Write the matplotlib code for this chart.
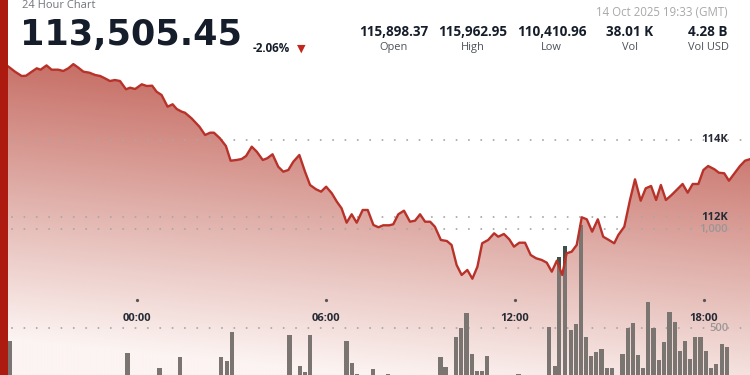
import numpy as np
import matplotlib
matplotlib.use("Agg")
import matplotlib.pyplot as plt
from matplotlib.patches import Polygon, Rectangle
import matplotlib.transforms as mtransforms

# ---------------- data ----------------
title = "24 Hour Chart"
last_price = "113,505.45"
change_pct = "-2.06%"
timestamp = "14 Oct 2025 19:33 (GMT)"
stats_values = ["115,898.37", "115,962.95", "110,410.96", "38.01 K", "4.28 B"]
stats_labels = ["Open", "High", "Low", "Vol", "Vol USD"]

# hours relative to 00:00 (negative = previous day)
price_hours = [-4.07, -3.86, -3.65, -3.51, -3.33, -3.17, -3.05, -2.86, -2.70, -2.49,
               -2.33, -2.17, -2.01, -1.85, -1.69, -1.50, -1.32, -1.16, -1.01, -0.85,
               -0.69, -0.53, -0.34, -0.21, -0.05, 0.16, 0.32, 0.49, 0.63, 0.79,
               0.98, 1.14, 1.27, 1.43, 1.53, 1.74, 1.99, 2.17, 2.33, 2.45,
               2.64, 2.83, 2.98, 3.17, 3.33, 3.47, 3.65, 3.81, 4.00, 4.14,
               4.31, 4.49, 4.65, 4.81, 4.97, 5.16, 5.34, 5.50, 5.69, 5.85,
               6.01, 6.19, 6.35, 6.50, 6.66, 6.82, 6.98, 7.17, 7.33, 7.51,
               7.67, 7.82, 8.01, 8.14, 8.30, 8.48, 8.67, 8.83, 8.99, 9.15,
               9.31, 9.46, 9.65, 9.84, 9.99, 10.15, 10.31, 10.49, 10.65, 10.81,
               10.96, 11.15, 11.34, 11.47, 11.65, 11.82, 11.97, 12.14, 12.32, 12.50,
               12.67, 12.85, 13.01, 13.17, 13.33, 13.50, 13.64, 13.80, 13.96, 14.12,
               14.28, 14.45, 14.63, 14.80, 14.98, 15.15, 15.28, 15.47, 15.65, 15.81,
               15.99, 16.15, 16.32, 16.48, 16.63, 16.79, 16.97, 17.13, 17.32, 17.48,
               17.64, 17.82, 17.98, 18.13, 18.33, 18.47, 18.64, 18.79, 18.98, 19.14,
               19.30, 19.46]
price_values = [115898, 115767, 115656, 115663, 115767, 115855, 115819, 115930, 115819, 115819,
                115785, 115855, 115963, 115870, 115767, 115741, 115682, 115656, 115596, 115526,
                115552, 115526, 115312, 115353, 115319, 115441, 115397, 115405, 115250, 115164,
                114861, 114924, 114802, 114732, 114706, 114561, 114344, 114129, 114189, 114189,
                114044, 113845, 113464, 113483, 113508, 113586, 113827, 113697, 113483, 113527,
                113630, 113309, 113180, 113224, 113439, 113612, 113180, 112836, 112725, 112663,
                112792, 112621, 112404, 112233, 111861, 112078, 111861, 112189, 112189, 111801,
                111742, 111793, 111793, 111819, 112078, 112171, 111886, 111912, 112078, 111886,
                111886, 111757, 111413, 111387, 111284, 110766, 110508, 110637, 110411, 110722,
                111328, 111413, 111586, 111498, 111568, 111431, 111240, 111343, 111343, 111025,
                110940, 110896, 110826, 110593, 110878, 110508, 111069, 111110, 111284, 112000,
                111948, 111628, 111948, 111498, 111413, 111328, 111542, 111757, 112448, 112983,
                112430, 112750, 112810, 112448, 112836, 112448, 112577, 112707, 112862, 112637,
                112862, 112862, 113224, 113327, 113242, 113154, 113139, 112947, 113154, 113327,
                113464, 113505]

volume_hours = [-4.02, -0.29, 0.72, 1.38, 2.67, 2.86, 3.03, 4.85, 5.17, 5.33,
                5.51, 6.66, 6.82, 6.98, 7.49, 7.98, 9.64, 9.80, 10.12, 10.29,
                10.46, 10.63, 10.80, 10.96, 11.12, 12.11, 13.09, 13.26, 13.40, 13.59,
                13.77, 13.94, 14.09, 14.25, 14.41, 14.58, 14.75, 14.91, 15.08, 15.41,
                15.58, 15.74, 15.90, 16.07, 16.23, 16.40, 16.57, 16.73, 16.90, 17.07,
                17.23, 17.40, 17.56, 17.72, 17.89, 18.06, 18.22, 18.39, 18.56, 18.72]
volume_values = [434, 372, 299, 354, 355, 335, 481, 465, 310, 279,
                 465, 434, 325, 268, 293, 266, 352, 303, 453, 498,
                 576, 370, 281, 281, 360, 266, 503, 307, 860, 914,
                 490, 519, 1020, 456, 359, 377, 392, 296, 296, 370,
                 498, 525, 364, 296, 630, 498, 337, 428, 579, 532,
                 385, 436, 342, 456, 456, 384, 299, 318, 418, 406]

time_ticks = [0, 6, 12, 18]
time_labels = ["00:00", "06:00", "12:00", "18:00"]
price_ticks = [114000, 112000]
price_tick_labels = ["114K", "112K"]
volume_ticks = [1000, 500]
volume_tick_labels = ["1,000", "500"]

# ---------------- layout ----------------
W, H = 750, 375
X_LIM = (-4.337, 19.458)
P_LIM = (107920, 117622)
V_LIM = (263, 2156)

SANS = ["Open Sans", "DejaVu Sans"]
DARK = "#151d2b"

fig = plt.figure(figsize=(W / 100, H / 100), dpi=100)
fig.patch.set_facecolor("white")


def make_axes(z, ylim):
    a = fig.add_axes([0, 0, 1, 1], zorder=z)
    a.set_xlim(*X_LIM)
    a.set_ylim(*ylim)
    a.axis("off")
    return a


ax_fill = make_axes(1, P_LIM)
ax_vol = make_axes(2, V_LIM)
ax_line = make_axes(3, P_LIM)

# gradient area under the price line
rows = np.arange(H)[:, None].astype(float)
cols = np.linspace(0, W, 200)[None, :]
t = (rows - 60) / 315 - 0.12 * (cols - 375) / 375
t = np.clip(t, 0, 1)
top = np.array([192, 95, 85]) / 255
bot = np.array([252, 244, 242]) / 255
img = top[None, None, :] + (bot - top)[None, None, :] * t[:, :, None]
im = ax_fill.imshow(img, extent=(X_LIM[0], X_LIM[1], P_LIM[0], P_LIM[1]),
                    aspect="auto", origin="upper", interpolation="bilinear", zorder=1)
pts = list(zip(price_hours, price_values))
below = Polygon(pts + [(price_hours[-1], P_LIM[0] - 5000), (price_hours[0] - 1, P_LIM[0] - 5000),
                       (price_hours[0] - 1, price_values[0])],
                closed=True, transform=ax_fill.transData, facecolor="none", edgecolor="none")
ax_fill.add_patch(below)
im.set_clip_path(below)
ax_fill.set_xlim(*X_LIM)
ax_fill.set_ylim(*P_LIM)

# dotted grid lines
dot_style = dict(color="#a9a7a7", lw=1.4, ls=(0, (0.05, 6.3)), dash_capstyle="round")
for p in price_ticks:
    ax_fill.axhline(p, xmin=0.016, xmax=0.99, zorder=2, **dot_style)
for v in volume_ticks:
    ax_vol.axhline(v, xmin=0.016, xmax=0.99, zorder=1, **dot_style)

# volume bars
ax_vol.bar(volume_hours, volume_values, width=0.135, bottom=0, color="#7a7570",
           linewidth=0, zorder=2)
above = Polygon(pts + [(price_hours[-1], P_LIM[1] + 5000), (price_hours[0], P_LIM[1] + 5000)],
                closed=True, transform=ax_fill.transData, facecolor="none", edgecolor="none")
dark = ax_vol.bar(volume_hours, volume_values, width=0.135, bottom=0, color="#3e5047",
                  linewidth=0, zorder=3)
for b in dark:
    b.set_clip_path(above)

# price line
ax_line.plot(price_hours, price_values, color="#b8322a", lw=1.7,
             solid_joinstyle="round", zorder=3)

# time axis labels
tr_time = mtransforms.blended_transform_factory(ax_line.transData, ax_line.transAxes)
for tk, lb in zip(time_ticks, time_labels):
    ax_line.plot([tk], [1 - 300 / H], marker="o", ms=1.3, color="#555555",
                 transform=tr_time, zorder=4)
    ax_line.text(tk, 1 - 318.5 / H, lb, transform=tr_time, ha="center", va="center",
                 fontsize=8, fontweight="bold", color="#262b36", family=SANS, zorder=5)

# price / volume labels on the right
tr_p = mtransforms.blended_transform_factory(ax_line.transAxes, ax_line.transData)
for p, lb in zip(price_ticks, price_tick_labels):
    ax_line.text(728 / W, p, lb, transform=tr_p, ha="right", va="center",
                 fontsize=8, fontweight="bold", color="#262b36", family=SANS, zorder=5)
tr_v = mtransforms.blended_transform_factory(ax_vol.transAxes, ax_vol.transData)
for v, lb in zip(volume_ticks, volume_tick_labels):
    ax_vol.text(728 / W, v, lb, transform=tr_v, ha="right", va="center",
                fontsize=8, fontweight="semibold", color="#9a9696", family=SANS, zorder=5)

# header
def fx(x):
    return x / W


def fy(y):
    return 1 - y / H


fig.text(fx(22), fy(8), title, fontsize=8, color="#70757c", family=SANS,
         ha="left", va="baseline", zorder=20)
fig.text(fx(20), fy(45), last_price, fontsize=25.2, fontweight="bold", color=DARK,
         family=["DejaVu Sans"], ha="left", va="baseline", zorder=20)
fig.text(fx(253), fy(52), change_pct, fontsize=8.4, fontweight="bold", color=DARK,
         family=SANS, ha="left", va="baseline", zorder=20)
fig.text(fx(301), fy(48.5), "\u25BC", fontsize=8, color="#c0281e", family=["DejaVu Sans"],
         ha="center", va="center", zorder=20)

fig.text(fx(728), fy(16), timestamp, fontsize=8.3, color="#a8a8a8", family=SANS,
         ha="right", va="baseline", zorder=20)
stat_centers = [394, 473, 551.5, 630, 708]
for cx, val, lab in zip(stat_centers, stats_values, stats_labels):
    fig.text(fx(cx), fy(36), val, fontsize=9.75, fontweight="bold", color=DARK,
             family=SANS, ha="center", va="baseline", zorder=20)
    fig.text(fx(cx), fy(50), lab, fontsize=7.9, color="#4c5158", family=SANS,
             ha="center", va="baseline", zorder=20)

# red bar on the left edge
fig.add_artist(Rectangle((0, 0), 8 / W, 1, transform=fig.transFigure,
                         facecolor="#ad1a10", edgecolor="none", zorder=30))

fig.savefig("out.png", dpi=100, facecolor="white")
